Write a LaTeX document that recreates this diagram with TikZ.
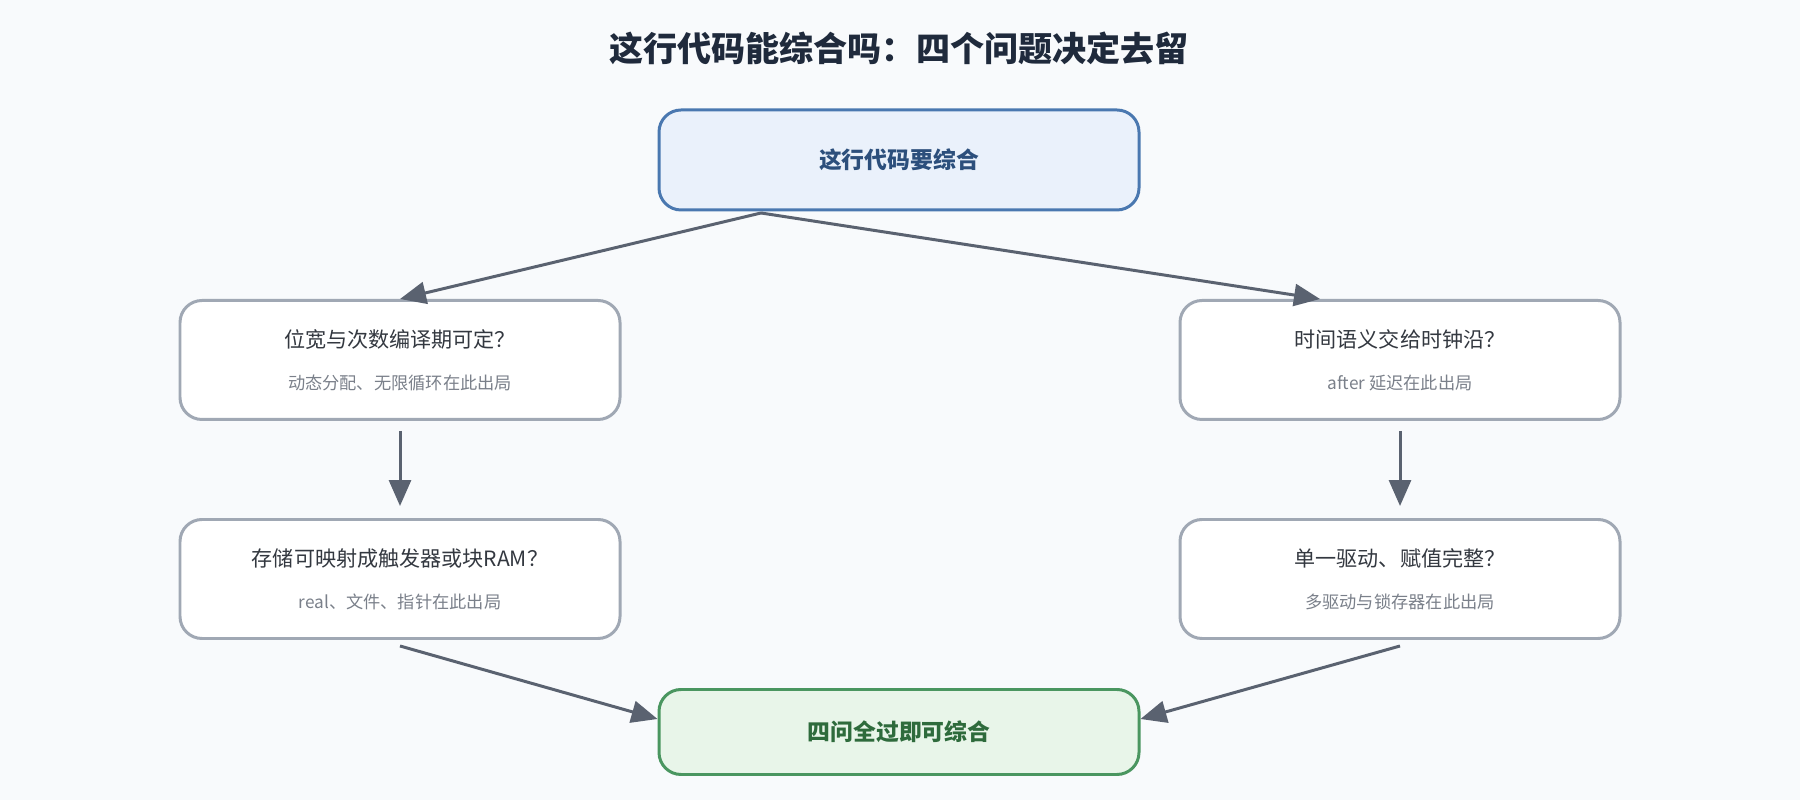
\documentclass[tikz,border=0pt]{standalone}
\usepackage{fontspec}
\setmainfont{Noto Sans CJK SC}
\usepackage{xcolor}
\usetikzlibrary{arrows.meta}
\definecolor{bgcol}{HTML}{F8FAFC}
\definecolor{titlecol}{HTML}{1F2A3C}
\definecolor{startfill}{HTML}{EAF1FB}
\definecolor{startdraw}{HTML}{4A78B0}
\definecolor{starttext}{HTML}{2C4F7C}
\definecolor{askdraw}{HTML}{A0A8B4}
\definecolor{asktext}{HTML}{333840}
\definecolor{subtext}{HTML}{7A808A}
\definecolor{endfill}{HTML}{E8F5E9}
\definecolor{enddraw}{HTML}{4A9660}
\definecolor{endtext}{HTML}{2E6B3C}
\definecolor{arrowcol}{HTML}{5A6270}
\begin{document}
\begin{tikzpicture}[x=0.1mm, y=-0.1mm,
    box/.style={draw, rounded corners=2.2mm, line width=0.85pt, align=center},
    ask/.style={box, draw=askdraw, fill=white, minimum width=44mm, minimum height=11.9mm, text=asktext, font=\fontsize{6}{9}\selectfont},
    flow/.style={-{Triangle[length=2.6mm, width=2.2mm]}, draw=arrowcol, line width=0.85pt}]
    \fill[bgcol] (0,0) rectangle (1800,800);

    \node[text=titlecol, font=\fontsize{9.7}{12}\selectfont\bfseries] at (899, 48) (title) {这行代码能综合吗：四个问题决定去留};

    \node[box, draw=startdraw, fill=startfill, minimum width=48mm, minimum height=10mm, text=starttext, font=\fontsize{6.5}{8}\selectfont\bfseries] at (899, 160) (start) {这行代码要综合};

    \node[ask] at (400, 360) (width) {位宽与次数编译期可定？\\[1mm] {\fontsize{4.9}{6}\selectfont\color{subtext}动态分配、无限循环在此出局}};
    \node[ask] at (1400, 360) (timing) {时间语义交给时钟沿？\\[1mm] {\fontsize{4.9}{6}\selectfont\color{subtext}after 延迟在此出局}};
    \node[ask] at (400, 579) (storage) {存储可映射成触发器或块RAM？\\[1mm] {\fontsize{4.9}{6}\selectfont\color{subtext}real、文件、指针在此出局}};
    \node[ask] at (1400, 579) (driver) {单一驱动、赋值完整？\\[1mm] {\fontsize{4.9}{6}\selectfont\color{subtext}多驱动与锁存器在此出局}};

    \node[box, draw=enddraw, fill=endfill, minimum width=48mm, minimum height=8.5mm, text=endtext, font=\fontsize{6.5}{8}\selectfont\bfseries] at (899, 732) (done) {四问全过即可综合};

    \coordinate (split) at (761, 213);
    \draw[flow] (split) -- (width.north);
    \draw[flow] (split) -- ([xshift=-8mm]timing.north);
    \draw[flow] ([yshift=-1mm]width.south) -- ([yshift=1.2mm]storage.north);
    \draw[flow] ([yshift=-1mm]timing.south) -- ([yshift=1.2mm]driver.north);
    \draw[flow] ([yshift=-0.6mm]storage.south) -- ([yshift=1.3mm]done.west);
    \draw[flow] ([yshift=-0.6mm]driver.south) -- ([yshift=1.3mm]done.east);
\end{tikzpicture}
\end{document}
